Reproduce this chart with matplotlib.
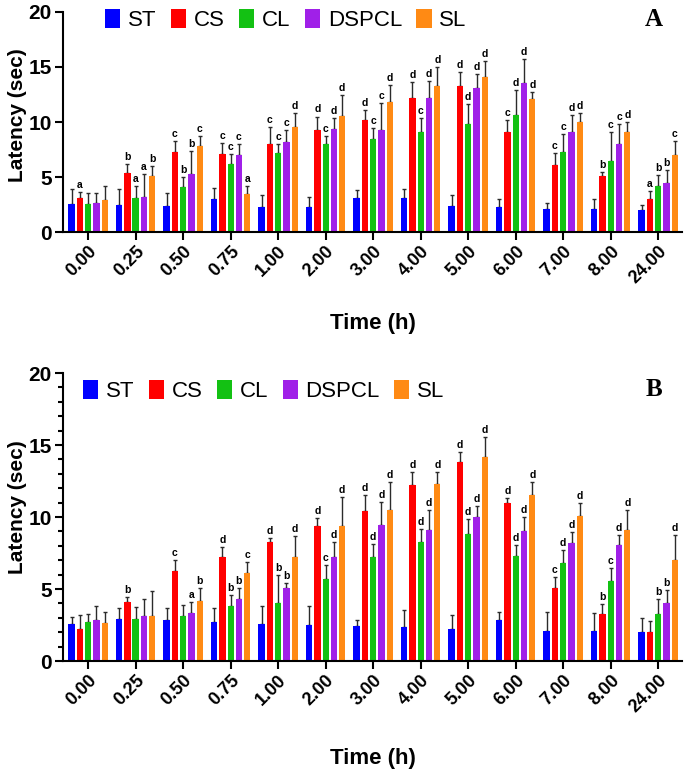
import numpy as np
import matplotlib
matplotlib.use('Agg')
import matplotlib.pyplot as plt
from matplotlib.patches import Patch
from matplotlib.ticker import MultipleLocator

plt.rcParams['font.family'] = ['Liberation Sans', 'DejaVu Sans']

# ── Data ──────────────────────────────────────────────────────────────────────
time_labels = ['0.00', '0.25', '0.50', '0.75', '1.00', '2.00', '3.00',
               '4.00', '5.00', '6.00', '7.00', '8.00', '24.00']
groups = ['ST', 'CS', 'CL', 'DSPCL', 'SL']
colors = ['#0000ff', '#ff0000', '#13c113', '#a020e8', '#ff8a14']

# panel A: means and upper error
st_a = [2.58, 2.5, 2.4, 3.0, 2.27, 2.27, 3.06, 3.12, 2.33, 2.27, 2.12, 2.09, 2.0]
cs_a = [3.06, 5.36, 7.3, 7.06, 7.97, 9.24, 10.18, 12.18, 13.3, 9.1, 6.12, 5.06, 3.0]
cl_a = [2.58, 3.12, 4.1, 6.2, 7.18, 7.97, 8.5, 9.1, 9.8, 10.64, 7.3, 6.45, 4.15]
dspcl_a = [2.67, 3.2, 5.27, 7.0, 8.15, 9.4, 9.24, 12.18, 13.1, 13.55, 9.1, 8.03, 4.45]
sl_a = [2.9, 5.12, 7.85, 3.48, 9.55, 10.58, 11.8, 13.3, 14.1, 12.12, 10.03, 9.12, 7.03]

st_a_err = [1.32, 1.4, 1.15, 1.0, 1.06, 0.93, 0.74, 0.78, 1.07, 0.76, 0.52, 0.94, 0.5]
cs_a_err = [0.54, 0.84, 1.0, 1.0, 1.58, 1.26, 0.92, 1.42, 1.25, 1.08, 1.06, 0.39, 0.76]
cl_a_err = [0.97, 1.08, 0.93, 0.9, 0.85, 0.79, 0.95, 1.3, 1.8, 2.26, 1.6, 2.65, 1.03]
dspcl_a_err = [0.91, 2.1, 2.06, 0.97, 1.15, 1.0, 2.46, 1.52, 1.23, 2.15, 1.54, 1.82, 1.22]
sl_a_err = [1.25, 0.85, 0.91, 0.7, 1.25, 1.87, 1.56, 1.7, 1.45, 0.58, 0.77, 0.88, 1.24]

st_a_sig = [''] * 13
cs_a_sig = ['a', 'b', 'c', 'c', 'c', 'd', 'd', 'd', 'd', 'c', 'c', 'b', 'a']
cl_a_sig = ['', 'a', 'b', 'c', 'c', 'c', 'c', 'c', 'd', 'd', 'c', 'c', 'b']
dspcl_a_sig = ['', 'a', 'b', 'c', 'c', 'd', 'c', 'd', 'd', 'd', 'd', 'c', 'b']
sl_a_sig = ['', 'b', 'c', 'a', 'd', 'd', 'd', 'd', 'd', 'd', 'd', 'd', 'c']

# panel B
st_b = [2.55, 2.92, 2.83, 2.69, 2.6, 2.5, 2.4, 2.34, 2.22, 2.85, 2.1, 2.08, 1.99]
cs_b = [2.2, 4.07, 6.24, 7.25, 8.24, 9.37, 10.42, 12.2, 13.8, 10.95, 5.09, 3.24, 2.04]
cl_b = [2.69, 2.92, 3.1, 3.84, 4.05, 5.72, 7.25, 8.24, 8.82, 7.32, 6.83, 5.58, 3.29]
dspcl_b = [2.83, 3.15, 3.36, 4.3, 5.05, 7.25, 9.44, 9.1, 10.02, 9.05, 8.17, 8.05, 4.05]
sl_b = [2.64, 3.1, 4.14, 6.08, 7.25, 9.4, 10.5, 12.27, 14.19, 11.5, 10.07, 9.1, 7.01]

st_b_err = [0.48, 0.73, 0.87, 0.96, 1.25, 1.35, 0.45, 1.2, 0.97, 0.58, 1.28, 1.23, 0.97]
cs_b_err = [1.03, 0.39, 0.76, 0.65, 0.28, 0.56, 1.13, 0.95, 0.7, 0.35, 0.73, 0.72, 0.74]
cl_b_err = [0.56, 0.85, 0.79, 0.72, 1.92, 0.97, 0.85, 0.9, 1.02, 0.74, 0.88, 0.85, 0.99]
dspcl_b_err = [1.02, 1.13, 0.74, 0.8, 0.39, 0.99, 1.62, 1.38, 0.77, 0.93, 0.81, 0.67, 0.86]
sl_b_err = [0.79, 1.78, 0.91, 0.82, 1.45, 1.97, 1.96, 0.88, 1.39, 0.9, 0.88, 1.38, 1.74]

st_b_sig = [''] * 13
cs_b_sig = ['', 'b', 'c', 'd', 'd', 'd', 'd', 'd', 'd', 'd', 'c', 'b', '']
cl_b_sig = ['', '', '', 'b', 'b', 'c', 'd', 'd', 'd', 'd', 'd', 'c', 'b']
dspcl_b_sig = ['', '', 'a', 'b', 'b', 'd', 'd', 'd', 'd', 'd', 'd', 'd', 'b']
sl_b_sig = ['', '', 'b', 'c', 'd', 'd', 'd', 'd', 'd', 'd', 'd', 'd', 'd']

panel_a = ([st_a, cs_a, cl_a, dspcl_a, sl_a],
           [st_a_err, cs_a_err, cl_a_err, dspcl_a_err, sl_a_err],
           [st_a_sig, cs_a_sig, cl_a_sig, dspcl_a_sig, sl_a_sig])
panel_b = ([st_b, cs_b, cl_b, dspcl_b, sl_b],
           [st_b_err, cs_b_err, cl_b_err, dspcl_b_err, sl_b_err],
           [st_b_sig, cs_b_sig, cl_b_sig, dspcl_b_sig, sl_b_sig])


# ── Drawing ───────────────────────────────────────────────────────────────────
def draw_panel(ax, panel, letter, minor, leg_x, leg_y, label_y):
    means, errs, sigs = panel
    x = np.arange(len(time_labels))
    pitch, width = 0.175, 0.133
    for i, (m, e, s) in enumerate(zip(means, errs, sigs)):
        xs = x + (i - 2) * pitch
        ax.bar(xs, m, width, color=colors[i], zorder=2)
        ax.errorbar(xs, m, yerr=[np.zeros(len(m)), e], fmt='none',
                    ecolor='#2b2b2b', elinewidth=1.0, capsize=1.4,
                    capthick=1.0, zorder=1)
        for xi, mi, ei, si in zip(xs, m, e, s):
            if si:
                ax.annotate(si, (xi, mi + ei), xytext=(0, 1.5),
                            textcoords='offset points', ha='center',
                            va='bottom', fontsize=7.5, fontweight='bold')

    ax.set_xlim(-0.53, 12.5)
    ax.set_ylim(0, 20)
    ax.yaxis.set_major_locator(MultipleLocator(5))
    if minor:
        ax.yaxis.set_minor_locator(MultipleLocator(1))
    ax.set_xticks(x)
    ax.set_xticklabels(time_labels, rotation=45, ha='right', va='top',
                       rotation_mode='anchor', fontweight='bold', fontsize=13)
    for t in ax.get_yticklabels():
        t.set_fontweight('bold')
        t.set_fontsize(15)
    ax.tick_params(axis='both', which='major', direction='out', length=6,
                   width=1.5, pad=2)
    ax.tick_params(axis='y', which='minor', direction='out', length=3.5,
                   width=1.5)
    for side in ['top', 'right']:
        ax.spines[side].set_visible(False)
    for side in ['left', 'bottom']:
        ax.spines[side].set_linewidth(1.5)

    ax.set_ylabel('Latency (sec)', fontsize=15, fontweight='bold')
    ax.yaxis.set_label_coords(-0.058, label_y)
    ax.set_xlabel('Time (h)', fontsize=16, fontweight='bold')

    handles = [Patch(facecolor=c, label=g) for c, g in zip(colors, groups)]
    ax.legend(handles=handles, loc='center left', bbox_to_anchor=(leg_x, leg_y),
              ncol=5, frameon=False, fontsize=16, handlelength=0.68,
              handleheight=0.95, handletextpad=0.35, columnspacing=0.65,
              borderpad=0, borderaxespad=0)

    ax.text(0.955, leg_y + 0.005, letter, transform=ax.transAxes, ha='center',
            va='center', fontsize=18, fontweight='bold',
            family=['Liberation Serif', 'DejaVu Serif'])


fig = plt.figure(figsize=(6.89, 7.69), dpi=100)
ax_a = fig.add_axes([0.0914, 0.6983, 0.8984, 0.2861])
ax_b = fig.add_axes([0.0914, 0.1404, 0.8984, 0.3745])

draw_panel(ax_a, panel_a, 'A', False, 0.068, 0.962, 0.53)
draw_panel(ax_b, panel_b, 'B', True, 0.032, 0.9375, 0.535)

ax_a.xaxis.set_label_coords(0.5, -0.368)
ax_b.xaxis.set_label_coords(0.5, -0.302)

plt.savefig('out.png', dpi=100)
